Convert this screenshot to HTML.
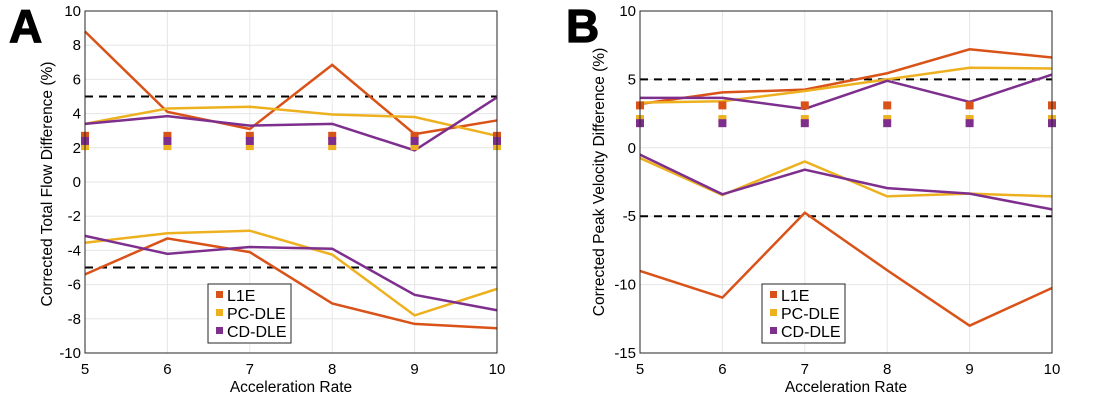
<!DOCTYPE html>
<html><head><meta charset="utf-8"><style>
body{margin:0;background:#fff;font-family:"Liberation Sans",Arial,sans-serif}
svg text{font-family:"Liberation Sans",Arial,sans-serif}
</style></head><body>
<svg id="s" width="1100" height="400" xmlns="http://www.w3.org/2000/svg"></svg>
<script>
const categories=[5,6,7,8,9,10];
const aL1EUp=[8.8,4.1,3.1,6.85,2.8,3.6];
const aPCUp=[3.4,4.3,4.4,3.95,3.8,2.7];
const aCDUp=[3.4,3.85,3.3,3.4,1.85,4.95];
const aL1ELo=[-5.4,-3.3,-4.1,-7.1,-8.3,-8.55];
const aPCLo=[-3.55,-3.0,-2.85,-4.25,-7.8,-6.25];
const aCDLo=[-3.15,-4.2,-3.8,-3.9,-6.6,-7.5];
const aMarks=[2.7,2.1,2.4];
const bL1EUp=[3.2,4.05,4.25,5.45,7.2,6.6];
const bPCUp=[3.3,3.4,4.15,5.0,5.85,5.8];
const bCDUp=[3.65,3.65,2.85,4.9,3.35,5.35];
const bL1ELo=[-9,-10.95,-4.75,-8.95,-13,-10.25];
const bPCLo=[-0.75,-3.45,-1.0,-3.55,-3.35,-3.55];
const bCDLo=[-0.5,-3.4,-1.6,-2.95,-3.35,-4.5];
const bMarks=[3.1,2.1,1.8];
const aTicks=[-10,-8,-6,-4,-2,0,2,4,6,8,10];
const bTicks=[-15,-10,-5,0,5,10];
const names=["L1E","PC-DLE","CD-DLE"];
const colors=["#d95319","#edb120","#7e2f8e"];
const S=document.getElementById('s');
const NS="http://www.w3.org/2000/svg";
function mk(t,a,p,txt){const e=document.createElementNS(NS,t);for(const k in a)e.setAttribute(k,a[k]);if(txt!==undefined)e.textContent=txt;(p||S).appendChild(e);return e;}
function panel(id,x0,x1,y0,y1,ymin,ymax,ticks,ylab,letter,letterX,ups,los,marks,legX){
  const g=mk('g',{});
  
  
  const X=v=>x0+(v-5)/5*(x1-x0);
  const Y=v=>y1-(v-ymin)/(ymax-ymin)*(y1-y0);
  const L=mk('text',{x:letterX,y:42,'font-size':46,'font-weight':'bold',stroke:'#000','stroke-width':1.2},g,letter);
  
  
  categories.forEach(c=>{const l=mk('line',{x1:X(c),x2:X(c),y1:y0,y2:y1,stroke:'#e6e6e6'},g);
    });
  ticks.forEach(t=>{const l=mk('line',{x1:x0,x2:x1,y1:Y(t),y2:Y(t),stroke:'#e6e6e6'},g);
    });
  [5,-5].forEach(v=>{const l=mk('line',{x1:x0,x2:x1,y1:Y(v),y2:Y(v),stroke:'#000','stroke-width':2,'stroke-dasharray':'8,6'},g);
    });
  const sets=[ups,los];
  sets.forEach((set,si)=>set.forEach((arr,i)=>{
    const p=mk('polyline',{points:arr.map((v,j)=>X(categories[j])+','+Y(v)).join(' '),fill:'none',stroke:colors[i],'stroke-width':2.5},g);
    
    
  }));
  marks.forEach((m,i)=>categories.forEach(c=>{
    const r=mk('rect',{x:X(c)-4,y:Y(m)-4,width:8,height:8,fill:colors[i]},g);
    
    
  }));
  const ax=mk('rect',{x:x0,y:y0,width:x1-x0,height:y1-y0,fill:'none',stroke:'#262626','stroke-width':1},g);
  
  ticks.forEach(t=>{const tx=mk('text',{x:x0-4,y:Y(t)+5,'font-size':15,'text-anchor':'end'},g,t);
    });
  categories.forEach(c=>{const tx=mk('text',{x:X(c),y:y1+21,'font-size':15,'text-anchor':'middle'},g,c);
    });
  const xl=mk('text',{x:(x0+x1)/2,y:y1+39,'font-size':15.5,'text-anchor':'middle'},g,'Acceleration Rate');
  
  const cy=(y0+y1)/2+(id==='a'?2:0), cx=x0-(id==='a'?33:36);
  const yl=mk('text',{x:cx,y:cy,'font-size':15.5,'text-anchor':'middle',transform:`rotate(-90 ${cx} ${cy})`},g,ylab);
  
  const lg=mk('g',{},g);
  
  mk('rect',{x:legX,y:284,width:83,height:59,fill:'#fff',stroke:'#262626'},lg);
  names.forEach((n,i)=>{
    const e=mk('g',{},lg);
    
    
    mk('rect',{x:legX+8,y:291+i*18,width:7,height:7,fill:colors[i]},e);
    mk('text',{x:legX+19,y:301+i*18,'font-size':16},e,n);
  });
}
panel('a',85,497,11,353,-10,10,aTicks,'Corrected Total Flow Difference (%)','A',9,[aL1EUp,aPCUp,aCDUp],[aL1ELo,aPCLo,aCDLo],aMarks,208);
panel('b',640,1052,11,353,-15,10,bTicks,'Corrected Peak Velocity Difference (%)','B',566,[bL1EUp,bPCUp,bCDUp],[bL1ELo,bPCLo,bCDLo],bMarks,762);
</script>
</body></html>
